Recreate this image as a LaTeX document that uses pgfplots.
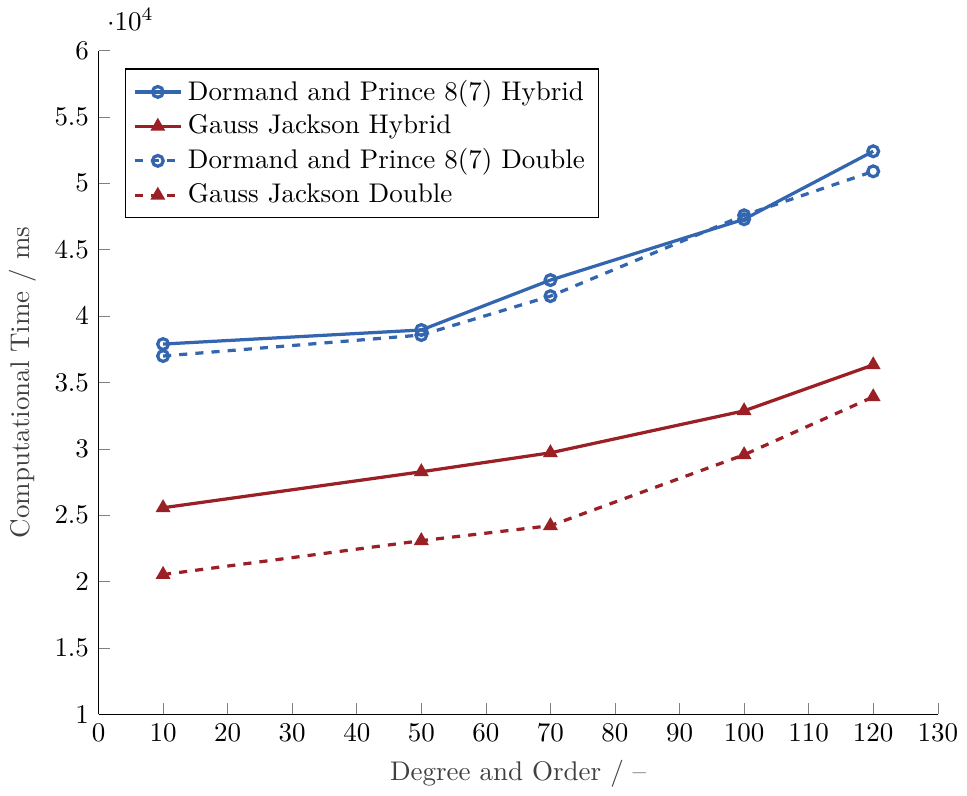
\documentclass[border={0pt 0pt 0pt 3pt}]{standalone}
\usepackage{pgfplots}
\pgfplotsset{compat=1.18}
\definecolor{myblue}{RGB}{52,101,175}
\definecolor{myred}{RGB}{155,32,38}
\begin{document}
\begin{tikzpicture}
\begin{axis}[
  scale only axis,
  width=311pt, height=246pt,
  xmin=0, xmax=130, ymin=10000, ymax=60000,
  xtick={0,10,...,130},
  ytick={10000,15000,...,60000},
  xlabel={Degree and Order / --},
  ylabel={Computational Time / ms},
  label style={text=black!75},
  axis x line*=bottom, axis y line*=left,
  tick align=inside,
  major tick style={gray},
  legend style={at={(0.031,0.973)}, anchor=north west, legend cell align=left},
  every axis plot/.append style={very thick},
]
\addplot[myblue, mark=o, mark options={solid, fill=white}] coordinates {
(10,37890) (50,38950) (70,42710) (100,47290) (120,52410)};
\addlegendentry{Dormand and Prince 8(7) Hybrid}
\addplot[myred, mark=triangle*, mark options={solid}] coordinates {
(10,25560) (50,28270) (70,29700) (100,32860) (120,36320)};
\addlegendentry{Gauss Jackson Hybrid}
\addplot[myblue, dashed, mark=o, mark options={solid, fill=white}] coordinates {
(10,36990) (50,38570) (70,41500) (100,47590) (120,50900)};
\addlegendentry{Dormand and Prince 8(7) Double}
\addplot[myred, dashed, mark=triangle*, mark options={solid}] coordinates {
(10,20530) (50,23080) (70,24210) (100,29550) (120,33910)};
\addlegendentry{Gauss Jackson Double}
\end{axis}
\end{tikzpicture}
\end{document}
